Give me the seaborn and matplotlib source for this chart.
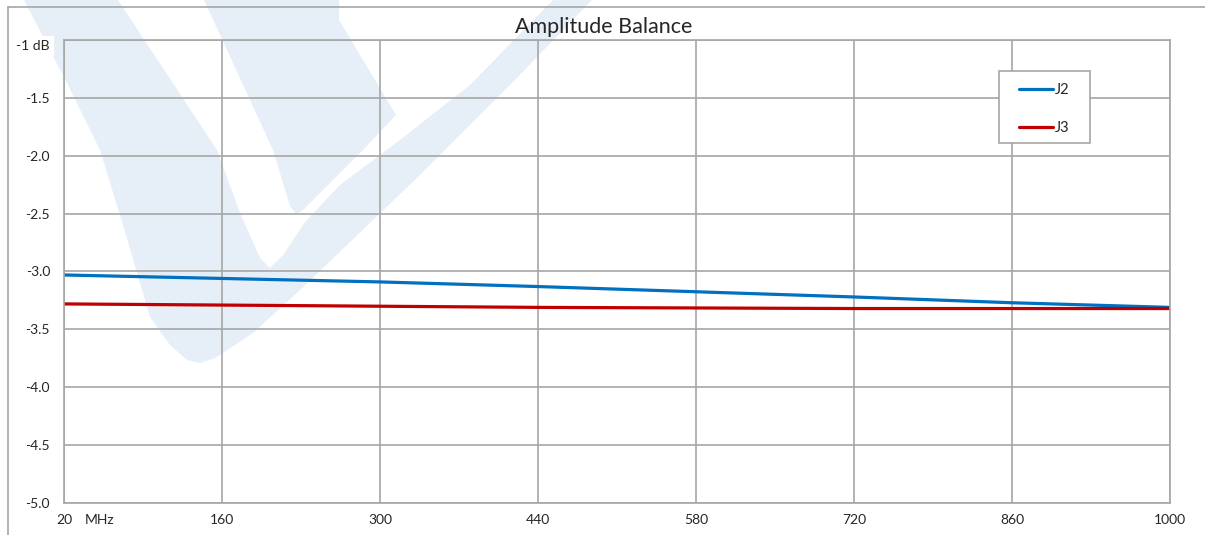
"""Amplitude Balance chart (J2 / J3)."""

import matplotlib
matplotlib.use("Agg")
import matplotlib.pyplot as plt
from matplotlib.patches import Polygon, Rectangle
import pandas as pd
import seaborn as sns

# data
freq_mhz = [20, 160, 300, 440, 580, 720, 860, 1000]
j2_db = [-3.03, -3.06, -3.09, -3.13, -3.175, -3.22, -3.27, -3.31]
j3_db = [-3.28, -3.29, -3.30, -3.31, -3.315, -3.32, -3.32, -3.32]
y_ticks = [-5.0, -4.5, -4.0, -3.5, -3.0, -2.5, -2.0, -1.5, -1.0]
y_labels = ["-5.0", "-4.5", "-4.0", "-3.5", "-3.0", "-2.5", "-2.0", "-1.5", "-1 dB"]
x_labels = ["20", "160", "300", "440", "580", "720", "860", "1000"]

W, H = 1205, 535
GRID = "#a6a6a6"
WM = "#e6eef7"
TXT = "#262626"

df = pd.concat(
    [
        pd.DataFrame({"freq": freq_mhz, "db": j2_db, "series": "J2"}),
        pd.DataFrame({"freq": freq_mhz, "db": j3_db, "series": "J3"}),
    ],
    ignore_index=True,
)

sns.set_theme(style="white")
plt.rcParams["font.family"] = ["Lato", "DejaVu Sans"]

fig = plt.figure(figsize=(W / 100, H / 100), dpi=100)
fig.patch.set_facecolor("white")

# background layer in pixel coordinates: watermark and outer frame
bg = fig.add_axes([0, 0, 1, 1], zorder=0)
bg.set_xlim(0, W)
bg.set_ylim(H, 0)
bg.axis("off")
v_shape = [(24, 0), (68, 85), (100, 150), (126, 235), (150, 317), (170, 345),
           (187, 360), (200, 363), (215, 358), (253, 333), (300, 290), (420, 175),
           (510, 85), (592, 0), (553, 0), (470, 85), (400, 140), (340, 185),
           (305, 222), (284, 254), (270, 268), (260, 258), (240, 213), (217, 150),
           (118, 0)]
wedge = [(204, 0), (339, 0), (339, 20), (396, 115), (363, 150), (302, 211),
         (296, 214), (290, 206), (273, 150)]
bg.add_patch(Polygon(v_shape, closed=True, facecolor=WM, edgecolor="none"))
bg.add_patch(Polygon(wedge, closed=True, facecolor=WM, edgecolor="none"))
bg.plot([8, W], [7, 7], color=GRID, lw=1.2)
bg.plot([8, 8], [7, H], color=GRID, lw=1.2)

ax = fig.add_axes([64 / W, (H - 503) / H, (1170 - 64) / W, (503 - 40) / H], zorder=1)
ax.patch.set_visible(False)

sns.lineplot(
    data=df,
    x="freq",
    y="db",
    hue="series",
    palette={"J2": "#0070c0", "J3": "#c00000"},
    linewidth=2.3,
    ax=ax,
)

ax.set_xlim(20, 1000)
ax.set_ylim(-5.0, -1.0)
ax.set_xticks(freq_mhz)
ax.set_xticklabels(x_labels)
ax.set_yticks(y_ticks)
ax.set_yticklabels(y_labels)
ax.set_xlabel("")
ax.set_ylabel("")
ax.grid(True, color=GRID, linewidth=1.2)
ax.set_axisbelow(True)
for sp in ax.spines.values():
    sp.set_color(GRID)
    sp.set_linewidth(1.2)
ax.tick_params(axis="both", length=0, labelsize=10, colors=TXT)
ax.tick_params(axis="x", pad=8)
ax.tick_params(axis="y", pad=10)
top_lbl = ax.get_yticklabels()[-1]
top_lbl.set_bbox(dict(facecolor="white", edgecolor="none", pad=3))
top_lbl.set_verticalalignment("top")

fig.text(85 / W, 1 - 520 / H, "MHz", fontsize=10, color=TXT, va="center")
fig.text(604 / W, 1 - 27 / H, "Amplitude Balance", fontsize=15.5, color=TXT,
         ha="center", va="center")

# legend frame drawn as a plain box inside the axes, entries placed on top
ax.add_patch(Rectangle((999 / W, 1 - 143 / H), 91 / W, 72 / H,
                       transform=fig.transFigure, facecolor="white",
                       edgecolor=GRID, linewidth=1.2, zorder=4, clip_on=False))
leg = ax.legend(
    loc="upper left",
    bbox_to_anchor=(1019 / W, 1 - 83 / H),
    bbox_transform=fig.transFigure,
    frameon=False,
    fontsize=10.5,
    handlelength=2.3,
    handletextpad=0.15,
    labelspacing=1.65,
    borderpad=0,
    borderaxespad=0,
)
leg.set_zorder(5)
for t in leg.get_texts():
    t.set_color(TXT)

fig.savefig("out.png", dpi=100)
